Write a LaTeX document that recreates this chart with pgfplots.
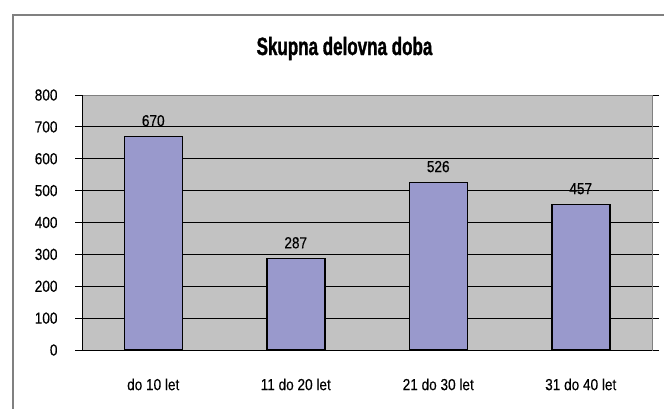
\documentclass[border=0pt]{standalone}
\usepackage{fontspec}
\setmainfont{Liberation Sans}[FakeStretch=0.85, UprightFeatures={FakeBold=0.3}]
\newfontfamily\titlefont{Liberation Sans}[FakeStretch=0.68, BoldFeatures={FakeBold=1.2}]
\usepackage{pgfplots}
\pgfplotsset{compat=1.18}
\definecolor{plotbg}{RGB}{194,194,194}
\definecolor{barfill}{RGB}{153,153,204}
\definecolor{bordergray}{RGB}{128,128,128}
\begin{document}
\begin{tikzpicture}[x=1bp,y=1bp]
\useasboundingbox (0,0) rectangle (664,408);
\clip (0,0) rectangle (664,408);
\draw[bordergray, line width=1.5bp] (13,-10) -- (13,393) -- (700,393);
\node[anchor=base, font=\titlefont\bfseries\fontsize{25bp}{30bp}\selectfont] at (344.5,353) {Skupna delovna doba};
\begin{axis}[
  at={(82bp,58bp)}, anchor=south west,
  scale only axis, width=570bp, height=255bp,
  xmin=-0.5, xmax=3.5, ymin=0, ymax=800,
  ytick={0,100,...,800},
  xtick={0,1,2,3},
  xticklabels={do 10 let, 11 do 20 let, 21 do 30 let, 31 do 40 let},
  minor xtick={-0.5,0.5,1.5,2.5,3.5},
  xtick style={draw=none},
  minor x tick style={black, line width=0.8bp},
  y tick style={black, line width=0.8bp},
  major tick length=7bp, minor tick length=7bp,
  tick align=outside,
  ymajorgrids, grid style={black, line width=0.8bp},
  axis line style={bordergray, line width=1bp},
  axis background/.style={fill=plotbg},
  /pgf/number format/assume math mode=true,
  ticklabel style={font=\fontsize{16bp}{19bp}\selectfont},
  yticklabel style={xshift=-14bp},
  xticklabel style={yshift=-18bp},
  ybar, bar width=58bp,
  nodes near coords,
  every node near coord/.append style={font=\fontsize{16bp}{19bp}\selectfont, black, yshift=6bp},
]
\addplot[fill=barfill, draw=black, line width=1.5bp] coordinates {(0,670) (1,287) (2,526) (3,457)};
\draw[black, line width=1bp] (rel axis cs:0,1) -- (rel axis cs:0,0) -- (rel axis cs:1,0);
\end{axis}
\end{tikzpicture}
\end{document}
